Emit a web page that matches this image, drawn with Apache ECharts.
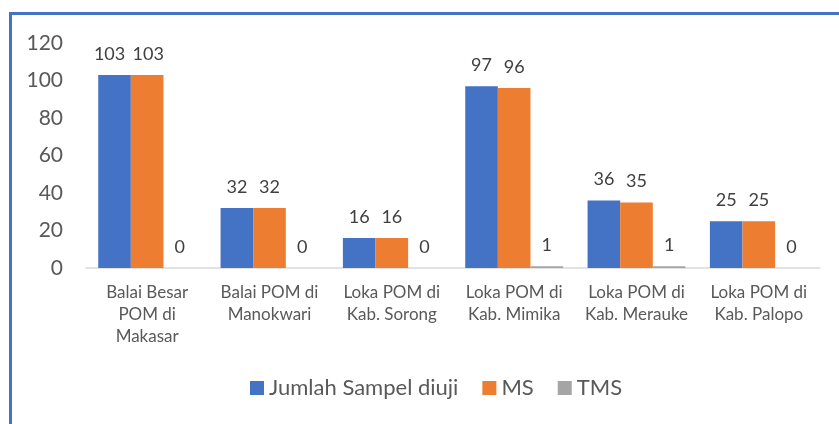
<!DOCTYPE html>
<html><head><meta charset="utf-8">
<script src="https://cdn.jsdelivr.net/npm/echarts@6/dist/echarts.min.js"></script>
<style>html,body{margin:0;padding:0;background:#fff}#c{width:839px;height:424px}</style>
</head><body><div id="c"></div>
<script>
const categories = ["Balai Besar\nPOM di\nMakasar", "Balai POM di\nManokwari", "Loka POM di\nKab. Sorong", "Loka POM di\nKab. Mimika", "Loka POM di\nKab. Merauke", "Loka POM di\nKab. Palopo"];
const jumlah = [103, 32, 16, 97, 36, 25];
const ms = [103, 32, 16, 96, 35, 25];
const tms = [0, 0, 0, 1, 1, 0];
const yTicks = [0, 20, 40, 60, 80, 100, 120];

const FONT = "Lato";
const chart = echarts.init(document.getElementById('c'), null, {renderer: 'canvas'});
const lbl = {show: true, position: 'top', distance: 12, color: '#404040', fontSize: 18, fontFamily: FONT};
// Excel nudges the first label left to avoid touching its neighbour
const jumlahData = jumlah.map((v, i) => i === 0 ? {value: v, label: {offset: [-5, 0]}} : v);
const msData = ms.map((v, i) => i === 0 ? {value: v, label: {offset: [1, 0]}} : v);
chart.setOption({
  animation: false,
  backgroundColor: '#fff',
  grid: {left: 86, right: 19, top: 43, bottom: 156, containLabel: false},
  legend: {
    left: 245, top: 372, itemWidth: 14, itemHeight: 14, itemGap: 24, icon: 'rect',
    textStyle: {fontSize: 22, color: '#595959', fontFamily: FONT},
    data: ['Jumlah Sampel diuji', 'MS', 'TMS']
  },
  xAxis: {
    type: 'category', data: categories,
    axisLine: {lineStyle: {color: '#d9d9d9', width: 1.5}},
    axisTick: {show: false},
    axisLabel: {color: '#595959', fontSize: 17, fontFamily: FONT, lineHeight: 22, margin: 14, interval: 0}
  },
  yAxis: {
    type: 'value', min: 0, max: 120, interval: 20,
    splitLine: {show: false},
    axisLine: {show: false}, axisTick: {show: false},
    axisLabel: {color: '#595959', fontSize: 21, fontFamily: FONT, margin: 23,
      formatter: v => yTicks.includes(v) ? String(v) : ''}
  },
  series: [
    {name: 'Jumlah Sampel diuji', type: 'bar', data: jumlahData, barGap: '0%', barCategoryGap: '20%', itemStyle: {color: '#4472c4'}, label: lbl},
    {name: 'MS', type: 'bar', data: msData, itemStyle: {color: '#ed7d31'}, label: lbl},
    {name: 'TMS', type: 'bar', data: tms, itemStyle: {color: '#a5a5a5'}, label: lbl}
  ],
  graphic: [
    {type: 'rect', shape: {x: 9, y: 12, width: 830, height: 3}, style: {fill: '#4472c4'}},
    {type: 'rect', shape: {x: 9, y: 12, width: 3, height: 412}, style: {fill: '#4472c4'}}
  ]
});
</script></body></html>
